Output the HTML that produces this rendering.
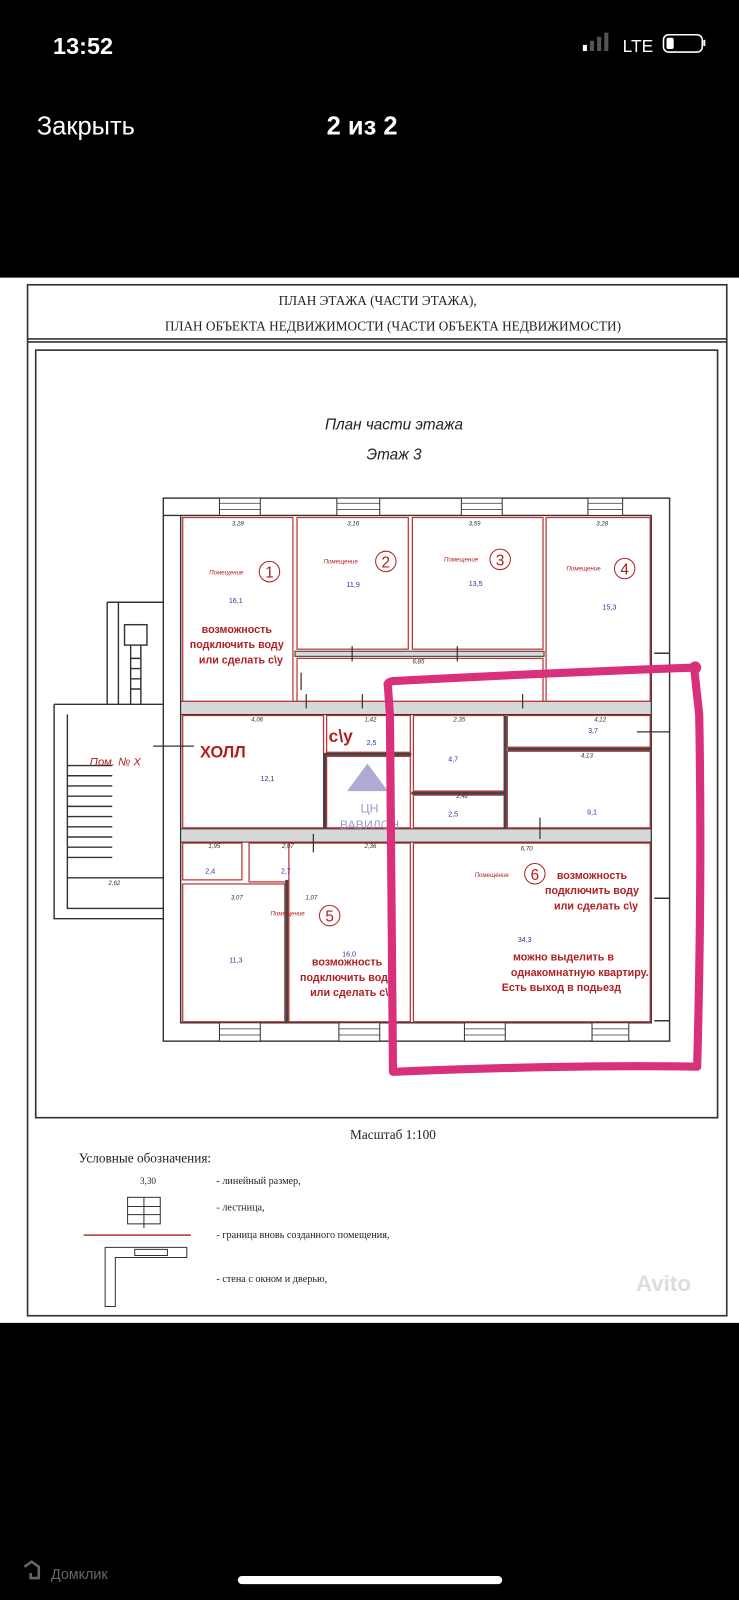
<!DOCTYPE html>
<html><head><meta charset="utf-8"><style>
html,body{margin:0;padding:0;background:#000;width:739px;height:1600px;overflow:hidden}
svg{display:block}
</style></head><body>
<svg width="739" height="1600" viewBox="0 0 724 1567.5" preserveAspectRatio="none" xmlns="http://www.w3.org/2000/svg" font-family="Liberation Sans, DejaVu Sans, sans-serif">
<rect width="724" height="1568" fill="#000"/>
<!-- status bar -->
<text x="52" y="53" fill="#fff" font-size="23" font-weight="bold">13:52</text>
<rect x="571" y="44" width="4" height="6" fill="#fff"/>
<rect x="578" y="40" width="4" height="10" fill="#555"/>
<rect x="585" y="36" width="4" height="14" fill="#555"/>
<rect x="592" y="32" width="4" height="18" fill="#555"/>
<text x="610" y="51" fill="#fff" font-size="17">LTE</text>
<rect x="650" y="34" width="38" height="17" rx="5" fill="none" stroke="#fff" stroke-width="1.5"/>
<rect x="653" y="37" width="7" height="11" rx="2" fill="#fff"/>
<rect x="689" y="39" width="2" height="6" fill="#fff"/>
<text x="36" y="132" fill="#fff" font-size="25">Закрыть</text>
<text x="320" y="132" fill="#fff" font-size="25" font-weight="bold">2 из 2</text>
<!-- paper -->
<rect x="0" y="272" width="724" height="1024" fill="#fff"/>
<g fill="none" stroke="#333" stroke-width="1.6">
<rect x="27" y="279" width="685" height="1010"/>
<line x1="27" y1="332" x2="712" y2="332"/><line x1="27" y1="335" x2="712" y2="335"/>
<rect x="35" y="343" width="668" height="752"/>
</g>
<g font-family="Liberation Serif, serif" fill="#222">
<text x="370" y="299" font-size="13" text-anchor="middle">ПЛАН ЭТАЖА (ЧАСТИ ЭТАЖА),</text>
<text x="385" y="324" font-size="13" text-anchor="middle">ПЛАН ОБЪЕКТА НЕДВИЖИМОСТИ (ЧАСТИ ОБЪЕКТА НЕДВИЖИМОСТИ)</text>
</g>
<text x="386" y="421" font-size="15" font-style="italic" text-anchor="middle" fill="#222">План части этажа</text>
<text x="386" y="450" font-size="15" font-style="italic" text-anchor="middle" fill="#222">Этаж 3</text>
<!-- building -->
<g fill="none" stroke="#333" stroke-width="1.4">
<rect x="160" y="488" width="496" height="532"/>
<path d="M105 590 H160 M105 590 V690 M116 590 V690"/>
<path d="M53 690 H160 M53 690 V900 H160 M66 700 V890 H160"/>
<rect x="122" y="612" width="22" height="20"/>
<path d="M128 632 V690 M138 632 V690"/>
<path d="M128 645 H138 M128 655 H138 M128 665 H138 M128 675 H138"/>
<path d="M66 750 H110 M66 760 H110 M66 770 H110 M66 780 H110 M66 790 H110 M66 800 H110 M66 810 H110 M66 820 H110 M66 830 H110 M66 840 H110"/>
<path d="M66 860 H160"/>
<path d="M160 505 H638 V1002 H177 V505 Z" stroke="#333"/>
<path d="M641 640 H656 M641 880 H656 M641 1000 H656"/>
</g>
<!-- windows -->
<g fill="#fff" stroke="#333" stroke-width="1">
<rect x="215" y="488" width="40" height="17"/><rect x="330" y="488" width="42" height="17"/><rect x="452" y="488" width="40" height="17"/><rect x="576" y="488" width="34" height="17"/>
<rect x="215" y="1002" width="40" height="18"/><rect x="332" y="1002" width="40" height="18"/><rect x="455" y="1002" width="40" height="18"/><rect x="580" y="1002" width="36" height="18"/>
</g>
<g stroke="#333" stroke-width="0.8">
<path d="M215 493 H255 M215 499 H255 M330 493 H372 M330 499 H372 M452 493 H492 M452 499 H492 M576 493 H610 M576 499 H610"/>
<path d="M215 1008 H255 M215 1014 H255 M332 1008 H372 M332 1014 H372 M455 1008 H495 M455 1014 H495 M580 1008 H616 M580 1014 H616"/>
</g>
<!-- grey walls -->
<g fill="#d8d8d8" stroke="#333" stroke-width="1">
<rect x="177" y="687" width="461" height="13"/>
<rect x="177" y="812" width="461" height="13"/>
<rect x="289" y="638" width="244" height="5"/>
</g>
<!-- red room outlines -->
<g fill="#fff" stroke="#c03030" stroke-width="1.2">
<rect x="179" y="507" width="108" height="180"/>
<rect x="291" y="507" width="109" height="129"/>
<rect x="404" y="507" width="128" height="129"/>
<rect x="535" y="507" width="102" height="180"/>
<rect x="291" y="645" width="241" height="42"/>
<rect x="179" y="701" width="138" height="110"/>
<rect x="320" y="701" width="82" height="36"/>
<rect x="320" y="741" width="82" height="70"/>
<rect x="405" y="701" width="89" height="74"/>
<rect x="405" y="779" width="89" height="32"/>
<rect x="497" y="701" width="140" height="31"/>
<rect x="497" y="736" width="140" height="75"/>
<rect x="179" y="826" width="58" height="36"/>
<rect x="244" y="826" width="74" height="38"/>
<rect x="179" y="866" width="100" height="135"/>
<rect x="283" y="826" width="119" height="175"/>
<rect x="405" y="826" width="232" height="175"/>
</g>
<g stroke="#444" stroke-width="3"><line x1="318" y1="739" x2="403" y2="739"/><line x1="495" y1="701" x2="495" y2="812"/><line x1="403" y1="777" x2="495" y2="777"/><line x1="497" y1="734" x2="638" y2="734"/><line x1="281" y1="862" x2="281" y2="1002"/><line x1="318" y1="738" x2="318" y2="812"/></g>
<!-- room labels -->
<g fill="#b02020" font-size="6" font-style="italic">
<text x="205" y="563">Помещение</text><text x="317" y="552">Помещение</text><text x="435" y="550">Помещение</text><text x="555" y="559">Помещение</text><text x="465" y="859">Помещение</text><text x="265" y="897">Помещение</text>
</g>
<g fill="none" stroke="#b02020" stroke-width="1"><circle cx="264" cy="560" r="10"/><circle cx="378" cy="550" r="10"/><circle cx="490" cy="548" r="10"/><circle cx="612" cy="557" r="10"/><circle cx="524" cy="856" r="10"/><circle cx="323" cy="897" r="10"/></g>
<g fill="#b02020" font-size="15" text-anchor="middle"><text x="264" y="566">1</text><text x="378" y="556">2</text><text x="490" y="554">3</text><text x="612" y="563">4</text><text x="524" y="862">6</text><text x="323" y="903">5</text></g>
<g fill="#b02020" font-size="10.5" font-weight="bold" text-anchor="middle">
<text x="232" y="620">возможность</text><text x="232" y="635">подключить воду</text><text x="236" y="650">или сделать с\у</text>
<text x="580" y="861">возможность</text><text x="580" y="876">подключить воду</text><text x="584" y="891">или сделать с\у</text>
<text x="340" y="946">возможность</text><text x="340" y="961">подключить воду</text><text x="345" y="976">или сделать с\у</text>
<text x="552" y="941">можно выделить в</text><text x="568" y="956">однакомнатную квартиру.</text><text x="550" y="971">Есть выход в подьезд</text>
</g>
<text x="196" y="742" fill="#b02020" font-size="16" font-weight="bold">ХОЛЛ</text>
<text x="322" y="727" fill="#b02020" font-size="17" font-weight="bold">c\y</text>
<text x="88" y="750" fill="#b02020" font-size="11" font-style="italic">Пом. № X</text>
<!-- area labels -->
<g fill="#3030a0" font-size="7" text-anchor="middle">
<text x="231" y="591">16,1</text><text x="346" y="575">11,9</text><text x="466" y="574">13,5</text><text x="597" y="597">15,3</text>
<text x="262" y="765">12,1</text><text x="364" y="730">2,5</text><text x="444" y="746">4,7</text><text x="444" y="800">2,5</text><text x="581" y="718">3,7</text><text x="580" y="798">9,1</text>
<text x="206" y="856">2,4</text><text x="280" y="856">2,7</text><text x="231" y="943">11,3</text><text x="342" y="937">16,0</text><text x="514" y="923">34,3</text>
</g>
<g fill="#333" font-size="6" font-style="italic" text-anchor="middle">
<text x="233" y="515">3,28</text><text x="346" y="515">3,16</text><text x="465" y="515">3,59</text><text x="590" y="515">3,28</text>
<text x="410" y="650">6,85</text><text x="252" y="707">4,06</text><text x="363" y="707">1,42</text><text x="450" y="707">2,35</text><text x="588" y="707">4,12</text><text x="575" y="742">4,13</text><text x="453" y="782">2,42</text>
<text x="210" y="831">1,95</text><text x="282" y="831">2,07</text><text x="363" y="831">2,36</text><text x="516" y="833">6,70</text><text x="232" y="881">3,07</text><text x="305" y="881">1,07</text><text x="112" y="867">2,62</text>
</g>
<!-- door ticks -->
<g stroke="#333" stroke-width="1.2">
<line x1="300" y1="680" x2="300" y2="694"/><line x1="355" y1="680" x2="355" y2="694"/><line x1="512" y1="680" x2="512" y2="694"/><line x1="524" y1="660" x2="542" y2="660"/>
<line x1="150" y1="731" x2="190" y2="731"/><line x1="624" y1="717" x2="656" y2="717"/><line x1="307" y1="817" x2="307" y2="835"/><line x1="529" y1="801" x2="529" y2="822"/>
<line x1="345" y1="633" x2="345" y2="648"/><line x1="448" y1="633" x2="448" y2="648"/><line x1="295" y1="659" x2="295" y2="676"/>
</g>
<!-- watermark -->
<polygon points="360,748 340,775 380,775" fill="#8a86c0" opacity="0.7"/>
<text x="362" y="796" fill="#8a86c0" font-size="12" text-anchor="middle" opacity="0.8">ЦН</text>
<text x="362" y="812" fill="#8a86c0" font-size="12" text-anchor="middle" opacity="0.8">ВАВИЛОН</text>
<!-- pink highlight -->
<path d="M380 672 Q378 667 390 667 Q520 660 680 654 L685 700 Q688 860 683 1045 Q560 1043 385 1050 L382 700 Z" fill="none" stroke="#d8307a" stroke-width="8" stroke-linejoin="round"/>
<circle cx="681" cy="654" r="6" fill="#d8307a"/>
<!-- legend -->
<g font-family="Liberation Serif, serif" fill="#222">
<text x="385" y="1116" font-size="13" text-anchor="middle">Масштаб 1:100</text>
<text x="77" y="1139" font-size="13">Условные обозначения:</text>
<text x="145" y="1160" font-size="9" text-anchor="middle">3,30</text>
<text x="212" y="1160" font-size="10">- линейный размер,</text>
<text x="212" y="1186" font-size="10">- лестница,</text>
<text x="212" y="1213" font-size="10">- граница вновь созданного помещения,</text>
<text x="212" y="1256" font-size="10">- стена с окном и дверью,</text>
</g>
<g fill="none" stroke="#333" stroke-width="1">
<rect x="125" y="1173" width="32" height="26"/><path d="M125 1182 H157 M125 1190 H157 M141 1173 V1203"/>
<path d="M103 1222 V1280 H113 V1232 H183 V1222 Z"/>
<rect x="132" y="1224" width="32" height="6"/>
</g>
<line x1="82" y1="1210" x2="187" y2="1210" stroke="#b03030" stroke-width="1.5"/>
<text x="650" y="1265" fill="#ddd" font-size="22" font-weight="bold" text-anchor="middle">Avito</text>
<!-- bottom -->
<path d="M24 1535 L31 1530 L38 1535 V1546 H30 V1541" fill="none" stroke="#666" stroke-width="2.5"/>
<text x="50" y="1547" fill="#666" font-size="14">Домклик</text>
<rect x="233" y="1544" width="259" height="8" rx="4" fill="#fff"/>
</svg>
</body></html>
